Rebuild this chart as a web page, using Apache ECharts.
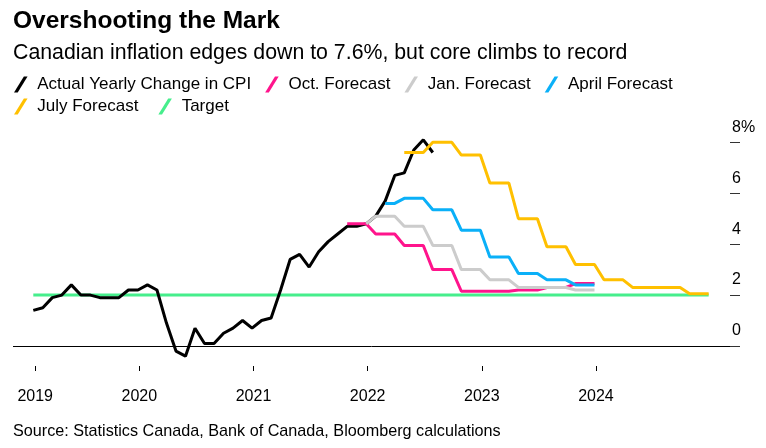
<!DOCTYPE html>
<html><head><meta charset="utf-8">
<script src="https://cdn.jsdelivr.net/npm/echarts@6/dist/echarts.min.js"></script>
<style>html,body{margin:0;padding:0;background:#fff}#c{width:766px;height:448px}</style>
</head><body><div id="c"></div>
<script>
// ---- data (monthly, yearly % change) ----
const cpiStart = '2019-01';
const cpiValues = [1.4,1.5,1.9,2.0,2.4,2.0,2.0,1.9,1.9,1.9,2.2,2.2,
                   2.4,2.2,0.9,-0.2,-0.4,0.7,0.1,0.1,0.5,0.7,1.0,0.7,
                   1.0,1.1,2.2,3.4,3.6,3.1,3.7,4.1,4.4,4.7,4.7,4.8,
                   5.1,5.7,6.7,6.8,7.7,8.1,7.6];
const octStart = '2021-10';
const octValues = [4.8,4.8,4.8, 4.4,4.4,4.4, 3.95,3.95,3.95, 3.0,3.0,3.0, 2.15,2.15,2.15,
                   2.15,2.15,2.15, 2.2,2.2,2.2, 2.3,2.3,2.3, 2.45,2.45,2.45];
const janStart = '2021-12';
const janValues = [4.8, 5.1,5.1,5.1, 4.7,4.7,4.7, 3.95,3.95,3.95, 3.0,3.0,3.0,
                   2.6,2.6,2.6, 2.3,2.3,2.3, 2.3,2.3,2.3, 2.2,2.2,2.2];
const aprStart = '2022-02';
const aprValues = [5.6,5.6, 5.8,5.8,5.8, 5.35,5.35,5.35, 4.55,4.55,4.55, 3.5,3.5,3.5,
                   2.85,2.85,2.85, 2.6,2.6,2.6, 2.4,2.4,2.4];
const julStart = '2022-04';
const julValues = [7.6,7.6,7.6, 8.0,8.0,8.0, 7.5,7.5,7.5, 6.4,6.4,6.4, 5.0,5.0,5.0,
                   3.9,3.9,3.9, 3.2,3.2,3.2, 2.6,2.6,2.6, 2.3,2.3,2.3, 2.3,2.3,2.3,
                   2.05,2.05,2.05];
const targetMonths = ['2019-01','2024-12'];
const targetValues = [2.0, 2.0];

const seriesNames = ['Actual Yearly Change in CPI','Oct. Forecast','Jan. Forecast','April Forecast','July Forecast','Target'];
const seriesColors = ['#000000','#ff148c','#cccccc','#0ab0f8','#ffc000','#46ee8c'];

// tick positions on the month axis (month index, Jan 2019 = 0)
const yearTickPos = [0.2, 11.15, 23.15, 35.15, 47.15, 59.15];
const yearTickLabels = ['2019','2020','2021','2022','2023','2024'];
const yTickPos = [0,2,4,6,8];
const yTickLabels = ['0','2','4','6','8%'];

function mIdx(s){const p=s.split('-').map(Number);return (p[0]-2019)*12+(p[1]-1);}
function build(start, vals){const s=mIdx(start);return vals.map((v,i)=>[s+i,v]);}
function nearest(arr, v){let b=0;for(let i=1;i<arr.length;i++){if(Math.abs(arr[i]-v)<Math.abs(arr[b]-v))b=i;}return b;}

const FONT = "'Liberation Sans', Arial, sans-serif";
const chart = echarts.init(document.getElementById('c'), null, {renderer:'canvas'});

const dataSets = [
  build(cpiStart, cpiValues),
  build(octStart, octValues),
  build(janStart, janValues),
  build(aprStart, aprValues),
  build(julStart, julValues),
  targetMonths.map((m,i)=>[mIdx(m), targetValues[i]])
];

const drawOrder = [5,0,1,2,3,4];
const series = drawOrder.map(i => {
  const s = {
    name: seriesNames[i], type:'line', data: dataSets[i], showSymbol:false, symbol:'none',
    color: seriesColors[i],
    lineStyle:{color:seriesColors[i], width:3},
    itemStyle:{color:seriesColors[i]},
    animation:false, silent:true, z: 2 + drawOrder.indexOf(i)
  };
  if (i === 5) {
    s.markLine = {silent:true, symbol:'none', label:{show:false}, animation:false,
      lineStyle:{color:'#000', width:1, type:'solid'}, data:[{yAxis:0}], z:1};
  }
  return s;
});

const slash = 'path://M0,13 L8,0 L11,0 L3,13 Z';
const legendCommon = {
  icon: slash, itemWidth: 23, itemHeight: 16, selectedMode:false, padding:0,
  itemStyle:{borderWidth:0},
  textStyle:{fontFamily:FONT, fontSize:17, color:'#000'}
};

chart.setOption({
  backgroundColor:'#fff',
  animation:false,
  title:[
    {text:'Overshooting the Mark', left:13, top:9, padding:0,
     textStyle:{fontFamily:FONT, fontSize:24.5, fontWeight:'bold', color:'#000'}},
    {text:'Canadian inflation edges down to 7.6%, but core climbs to record', left:13, top:43, padding:0,
     textStyle:{fontFamily:FONT, fontSize:21.3, fontWeight:'normal', color:'#000'}},
    {text:'Source: Statistics Canada, Bank of Canada, Bloomberg calculations', left:13, top:424, padding:0,
     textStyle:{fontFamily:FONT, fontSize:16.2, fontWeight:'normal', color:'#000'}}
  ],
  legend:[
    Object.assign({left:14, top:76, itemGap:14, data:seriesNames.slice(0,4)}, legendCommon),
    Object.assign({left:14, top:98, itemGap:20, data:seriesNames.slice(4)}, legendCommon)
  ],
  grid:{left:13, right:36, top:120, bottom:77, containLabel:false},
  xAxis:{
    type:'value', min:-2.134, max:73.245,
    axisLine:{show:false, onZero:false}, splitLine:{show:false},
    axisTick:{show:true, inside:true, length:5, customValues:yearTickPos, lineStyle:{color:'#000', width:1}},
    axisLabel:{show:true, customValues:yearTickPos, margin:18, fontFamily:FONT, fontSize:16, color:'#000',
      formatter:(v)=>yearTickLabels[nearest(yearTickPos, v)]}
  },
  yAxis:{
    type:'value', position:'right', min:-0.982, max:8.877,
    axisLine:{show:false, onZero:false}, splitLine:{show:false},
    axisTick:{show:true, length:10, customValues:yTickPos, lineStyle:{color:'#333', width:1}},
    axisLabel:{show:true, customValues:yTickPos, margin:2, verticalAlign:'bottom', padding:[0,0,7,0],
      fontFamily:FONT, fontSize:16, color:'#000',
      formatter:(v)=>yTickLabels[nearest(yTickPos, v)]}
  },
  series: series
});
</script></body></html>
